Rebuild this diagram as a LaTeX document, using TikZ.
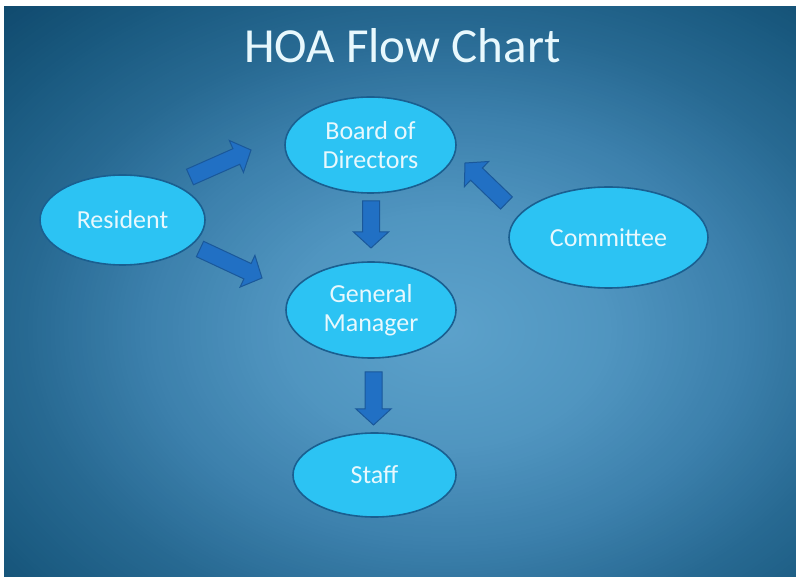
\documentclass[tikz,border=0pt]{standalone}
\usepackage{fontspec}
\setmainfont{Carlito}
\usetikzlibrary{shapes.geometric,calc}
\definecolor{bgA}{HTML}{5CA2CB}
\definecolor{bgB}{HTML}{5095C0}
\definecolor{bgC}{HTML}{3B7FAB}
\definecolor{bgD}{HTML}{286A93}
\definecolor{bgE}{HTML}{1A5A80}
\definecolor{bgF}{HTML}{0D4568}
\definecolor{ellF}{HTML}{2CC3F3}
\definecolor{ellB}{HTML}{1A5F90}
\definecolor{txtC}{HTML}{E8F8FD}
\definecolor{arrF}{HTML}{2170C4}
\definecolor{arrB}{HTML}{1A589A}
\newcommand\blockarr[2]{%
  \coordinate (#1hb) at ($(#2)!16pt!(#1)$);
  \draw[barrow] ($(#1)!8.5pt!90:(#2)$) -- ($(#1hb)!8.5pt!90:(#2)$) -- ($(#1hb)!17.5pt!90:(#2)$) -- (#2)
    -- ($(#1hb)!17.5pt!-90:(#2)$) -- ($(#1hb)!8.5pt!-90:(#2)$) -- ($(#1)!8.5pt!-90:(#2)$) -- cycle;
}
\begin{document}
\begin{tikzpicture}[x=1pt,y=-1pt,
  ell/.style={ellipse, draw=ellB, line width=1.6pt, fill=ellF, text=txtC,
    font=\fontsize{26}{29}\selectfont, align=center, inner sep=0pt},
  barrow/.style={fill=arrF, draw=arrB, line width=1pt, line join=miter},
  titlestyle/.style={text=txtC, font=\fontsize{49}{56}\selectfont, inner sep=0pt, anchor=base}]
\useasboundingbox (0,0) rectangle (796,577);
\fill[white] (0,0) rectangle (796,577);
\begin{scope}
  \clip (4,7) rectangle (796,577);
  \fill[bgF] (4,7) rectangle (796,577);
  \foreach \a/\b/\ca/\cb in {380/480/bgE/bgF, 300/380/bgD/bgE, 220/300/bgC/bgD, 120/220/bgB/bgC, 0/120/bgA/bgB}{
    \foreach \k in {0,...,24}{
      \pgfmathsetmacro\dd{\b-(\b-\a)*\k/25}
      \pgfmathsetmacro\pp{100*(\dd-\a)/(\b-\a)}
      \pgfmathsetmacro\rx{1.39*\dd}
      \fill[color=\cb!\pp!\ca] (445,330) ellipse [x radius=\rx pt, y radius=\dd pt];
    }
  }
  \fill[bgA] (445,330) ellipse [x radius=2pt, y radius=2pt];
\end{scope}
\node[titlestyle] (title) at (402.5,63) {HOA Flow Chart};
\node[ell, minimum width=171pt, minimum height=96pt] (bod) at (370.5,145) {Board of\\Directors};
\node[ell, minimum width=165pt, minimum height=90pt] (res) at (122.5,220) {Resident};
\node[ell, minimum width=199pt, minimum height=101pt] (com) at (608.5,237.5) {Committee};
\node[ell, minimum width=170pt, minimum height=96pt] (gm) at (371,310) {General\\Manager};
\node[ell, minimum width=163pt, minimum height=84pt] (staff) at (374.5,475) {Staff};
\coordinate (a1s) at (190,177);   \coordinate (a1e) at (251,150);
\coordinate (a2s) at (200,249);   \coordinate (a2e) at (262,278);
\coordinate (a3s) at (371,201);   \coordinate (a3e) at (371,248);
\coordinate (a4s) at (373.5,372); \coordinate (a4e) at (373.5,425);
\coordinate (a5s) at (506.5,203); \coordinate (a5e) at (465,163);
\blockarr{a1s}{a1e}
\blockarr{a2s}{a2e}
\blockarr{a3s}{a3e}
\blockarr{a4s}{a4e}
\blockarr{a5s}{a5e}
\end{tikzpicture}
\end{document}
